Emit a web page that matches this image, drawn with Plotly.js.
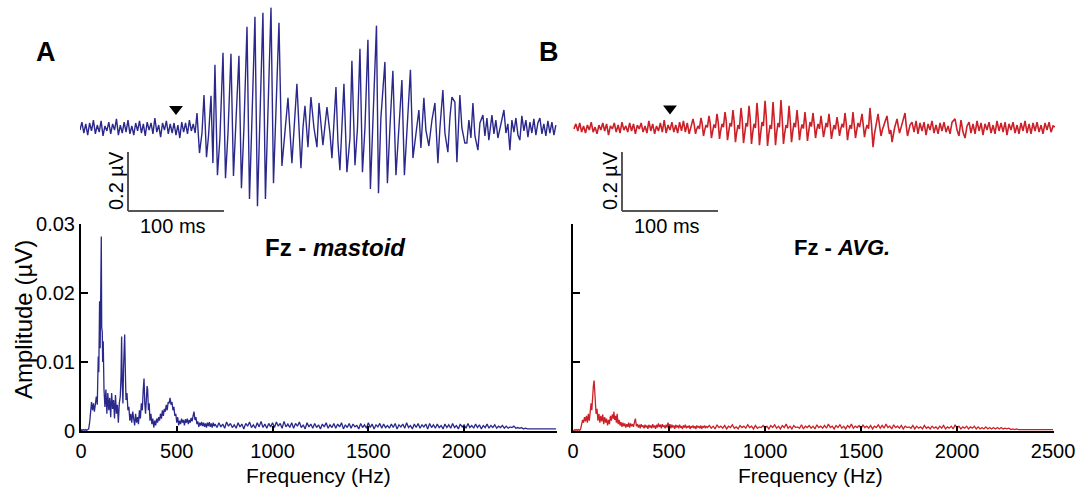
<!DOCTYPE html>
<html>
<head>
<meta charset="utf-8">
<script src="https://cdn.plot.ly/plotly-3.0.1.min.js"></script>
<style>html,body{margin:0;padding:0;background:#fff;}#chart{width:1077px;height:489px;}</style>
</head>
<body>
<div id="chart"></div>
<script>
// ---- Time-domain waveforms: [time (ms), amplitude (µV)] ----
const waveA = [
[-100,-0.007],[-98,0.020],[-96,-0.017],[-94,0.014],[-92,-0.024],[-90,0.017],[-88,-0.010],[-86,0.027],[-84,-0.020],[-82,0.010],
[-80,-0.014],[-78,0.024],[-76,-0.027],[-74,0.007],[-72,-0.010],[-70,0.020],[-68,-0.020],[-66,0.014],[-64,-0.007],[-62,0.031],
[-60,-0.024],[-58,0.010],[-56,-0.017],[-54,0.020],[-52,-0.014],[-50,0.027],[-48,-0.020],[-46,0.007],[-44,-0.024],[-42,0.017],
[-40,-0.010],[-38,0.024],[-36,-0.017],[-34,0.014],[-32,-0.027],[-30,0.020],[-28,-0.007],[-26,0.017],[-24,-0.020],[-22,0.034],
[-20,-0.014],[-18,0.010],[-16,-0.031],[-14,0.017],[-12,-0.007],[-10,0.024],[-8,-0.020],[-6,0.014],[-4,-0.017],[-2,0.017],
[0,-0.024],[2,0.010],[4,-0.034],[6,0.020],[8,-0.014],[10,0.017],[12,-0.020],[14,0.027],[16,-0.010],[18,0.014],[20,-0.017],
[21.9,0.051],[24.5,-0.085],[27.1,-0.017],[29.2,0.112],[31.8,-0.099],[33.9,-0.027],[36.5,0.109],[38.5,-0.119],[40.6,0.214],[43.2,-0.160],
[45.8,-0.034],[49.0,0.255],[51.6,-0.170],[54.2,-0.017],[57.3,0.252],[59.9,-0.163],[62.5,0.017],[65.6,0.245],[68.2,-0.204],[70.8,0],
[74.0,0.343],[76.6,-0.241],[79.2,0.034],[82.3,0.377],[84.9,-0.265],[87.5,0.027],[90.6,0.391],[93.2,-0.241],[95.8,0.051],[99.0,0.408],
[101.6,-0.187],[104.2,0.034],[107.3,0.357],[110.4,-0.129],[113.5,-0.017],[116.7,0.102],[120.8,-0.119],[123.4,0.017],[126.0,0.150],[130.2,-0.136],
[132.3,0],[134.4,0.075],[137.5,-0.065],[140.6,0.105],[143.8,0],[146.9,-0.065],[149.0,0.085],[151.0,0.017],[153.1,-0.058],[157.3,0.071],
[160.4,-0.017],[162.5,-0.102],[166.7,0.139],[168.8,-0.051],[170.8,-0.143],[175.0,0.150],[178.1,-0.150],[181.3,-0.034],[183.3,0.228],[186.5,-0.126],
[189.1,0],[191.7,0.269],[194.3,-0.150],[196.9,0],[200.0,0.299],[202.6,-0.207],[205.2,0.017],[208.9,0.347],[211.0,-0.221],[213.5,0.034],
[217.7,0.224],[220.3,-0.187],[222.9,0],[226.0,0.194],[229.2,-0.160],[232.3,0],[235.4,0.163],[238.0,-0.160],[240.6,0],[244.3,0.197],
[246.9,-0.102],[250.0,-0.017],[253.1,0.061],[255.2,-0.068],[258.3,0.102],[260.4,-0.007],[263.5,-0.061],[266.7,0.027],[269.8,0.085],[272.9,-0.119],
[275.0,0],[278.1,0.129],[280.2,-0.017],[283.3,-0.082],[285.4,0.034],[287.5,0.105],[290.6,0.088],[292.7,-0.116],[295.8,0.112],[297.9,0],
[301.0,-0.051],[303.1,-0.051],[305.2,0.027],[307.3,-0.034],[309.4,0.085],[311.5,-0.027],[314.6,-0.075],[316.7,0.017],[319.8,0.044],[321.9,-0.027],
[324.0,0.034],[326.0,-0.041],[329.2,0.044],[331.3,-0.020],[333.3,0.027],[335.4,-0.034],[338.5,0.017],[341.7,0.061],[343.8,-0.017],[345.8,0.014],
[347.9,-0.075],[350.0,0.027],[352.1,-0.014],[354.2,0.034],[356.3,-0.024],[358.3,-0.041],[360.4,0.041],[362.5,-0.010],[364.6,0.027],[366.7,-0.031],
[368.8,0.020],[370.8,-0.017],[372.9,0.031],[375.0,-0.024],[377.1,0.017],[379.2,0.034],[381.3,-0.020],[383.3,0.014],[385.4,-0.027],[387.5,0.024],
[389.6,-0.017],[391.7,0.020],[393.8,-0.024],[395.8,0.010]
];

const waveB = [
[-100,-0.003],[-98,0.014],[-96,-0.010],[-94,0.017],[-92,-0.014],[-90,0.007],[-88,-0.017],[-86,0.010],[-84,-0.007],[-82,0.020],
[-80,-0.014],[-78,0.003],[-76,-0.020],[-74,0.010],[-72,-0.007],[-70,0.017],[-68,-0.010],[-66,0.014],[-64,-0.024],[-62,0.007],
[-60,-0.003],[-58,0.017],[-56,-0.014],[-54,0.010],[-52,-0.017],[-50,0.020],[-48,-0.007],[-46,0.007],[-44,-0.014],[-42,0.017],
[-40,-0.010],[-38,0.014],[-36,-0.020],[-34,0.010],[-32,-0.003],[-30,0.017],[-28,-0.014],[-26,0.007],[-24,-0.017],[-22,0.024],
[-20,-0.010],[-18,0.014],[-16,-0.020],[-14,0.007],[-12,-0.010],[-10,0.017],[-8,-0.014],[-6,0.027],[-4,-0.017],[-2,0.010],
[0,-0.007],[2,0.020],[4,-0.014],[6,0.010],[8,-0.017],[10,0.020],[12,-0.010],[14,0.024],[16,-0.014],[18,0.017],[20,-0.020],
[21.9,0.010],[24.0,0.031],[25.2,0.012],[26.6,-0.020],[27.8,-0.004],[29.2,0.007],[30.6,-0.003],
[32.3,0.034],[33.5,0.015],[34.9,-0.027],[36.1,-0.008],[37.5,0.010],[39.0,0.002],
[40.6,0.041],[41.8,0.018],[43.2,-0.034],[44.4,-0.012],[45.8,0.012],[47.3,0.000],
[49.0,0.048],[50.2,0.020],[51.6,-0.037],[52.8,-0.010],[54.2,0.014],[55.7,0.003],
[57.3,0.054],[58.5,0.027],[59.9,-0.041],[61.1,-0.015],[62.5,0.017],[64.0,0.005],
[65.6,0.061],[66.8,0.024],[68.2,-0.048],[69.4,-0.017],[70.8,0.010],[72.3,-0.003],
[74.0,0.068],[75.2,0.030],[76.6,-0.051],[77.8,-0.020],[79.2,0.017],[80.7,0.005],
[82.3,0.075],[83.5,0.034],[84.9,-0.054],[86.1,-0.017],[87.5,0.014],[89.0,0.000],
[90.6,0.085],[91.8,0.037],[93.2,-0.058],[94.4,-0.020],[95.8,0.020],[97.3,0.007],
[99.0,0.092],[100.2,0.041],[101.6,-0.061],[102.8,-0.024],[104.2,0.010],[105.7,-0.003],
[107.3,0.088],[108.5,0.034],[109.9,-0.058],[111.1,-0.017],[112.5,0.017],[114.0,0.003],
[115.6,0.095],[116.8,0.037],[118.2,-0.054],[119.4,-0.020],[120.8,0.010],[122.3,0.000],
[124.0,0.075],[125.2,0.027],[126.6,-0.048],[127.8,-0.014],[129.2,0.017],[130.7,0.003],
[132.3,0.061],[133.5,0.020],[134.9,-0.041],[136.1,-0.010],[137.5,0.012],[139.0,-0.002],
[140.6,0.054],[141.8,0.017],[143.2,-0.044],[144.4,-0.014],[145.8,0.020],[147.3,0.005],
[149.0,0.051],[150.2,0.014],[151.6,-0.034],[152.8,-0.007],[154.2,0.014],[155.7,-0.003],
[157.3,0.041],[158.5,0.010],[159.9,-0.031],[161.1,-0.010],[162.5,0.017],[164.0,0.003],
[165.6,0.048],[166.8,0.014],[168.2,-0.037],[169.4,-0.012],[170.8,0.010],[172.3,-0.005],
[174.0,0.037],[175.2,0.010],[176.6,-0.027],[177.8,-0.005],[179.2,0.014],[180.7,0.002],
[182.3,0.051],[183.5,0.017],[184.9,-0.041],[186.1,-0.012],[187.5,0.010],[189.0,-0.003],
[190.6,0.054],[191.8,0.014],[193.2,-0.034],[194.4,-0.010],[195.8,0.017],[197.5,0.003],
[200.0,0.048],[201.2,0.012],[202.6,-0.031],[203.8,-0.007],[205.2,0.010],[206.8,-0.002],
[208.3,0.068],[209.9,0.010],[211.5,-0.065],[213.0,-0.020],[214.6,0.007],[216.7,0.048],[218.2,0.010],[219.8,-0.027],[221.3,-0.005],[222.9,0.010],
[226.0,0.041],[227.3,0.007],[228.6,-0.020],[230.0,-0.007],[231.3,-0.048],[233.9,0],[236.5,0.031],[237.8,0.005],[239.1,-0.017],[241.7,0.014],
[244.8,0.051],[246.0,0.010],[247.4,-0.027],[250.0,0.010],[252.1,0.020],[254.2,-0.014],[256.3,0.024],[258.3,-0.020],[260.4,0.017],[262.5,-0.010],
[264.6,0.020],[266.7,-0.024],[268.8,0.014],[270.8,-0.007],[272.9,0.024],[275.0,-0.017],[277.1,0.010],[279.2,-0.020],[281.3,0.017],[283.3,-0.010],
[285.4,0.020],[287.5,-0.014],[289.6,0.007],[291.7,-0.020],[293.8,0.020],[296.9,0.031],[299.0,-0.007],[301.0,-0.027],[303.1,0.027],[305.2,-0.014],
[307.3,-0.034],[309.4,0.007],[311.5,0.020],[313.5,-0.017],[315.6,0.014],[317.7,-0.020],[319.8,0.024],[321.9,-0.010],[324.0,0.017],[326.0,-0.024],
[328.1,0.014],[330.2,-0.007],[332.3,0.020],[334.4,-0.017],[336.5,0.010],[338.5,-0.020],[340.6,0.024],[342.7,-0.010],[344.8,0.017],[346.9,-0.014],
[349.0,0.020],[351.0,-0.024],[353.1,0.014],[355.2,-0.007],[357.3,0.020],[359.4,-0.017],[361.5,0.010],[363.5,-0.020],[365.6,0.017],[367.7,-0.010],
[369.8,0.024],[371.9,-0.017],[374.0,0.014],[376.0,-0.020],[378.1,0.017],[380.2,-0.010],[382.3,0.020],[384.4,-0.014],[386.5,0.010],[388.5,-0.020],
[390.6,0.017],[392.7,-0.007],[394.8,0.020],[396.9,-0.014],[399.0,0.007],[401.0,0.004]
];

const stimulusTime = [0];   // ms (arrowhead)
const scaleBarMs = 100;     // ms
const scaleBarUv = 0.2;     // µV

// ---- Amplitude spectra: low band [Hz, µV] ----
const specALow = [
[0,0],[5,0.0002],[10,0.0001],[15,0.0002],[20,0.0001],[25,0.0002],[30,0.0001],[35,0.0002],[40,0.0003],[45,0.0012],
[50,0.0025],[55,0.0042],[60,0.0030],[65,0.0040],[70,0.0028],[75,0.0045],[80,0.0050],[85,0.0038],[90,0.0108],[93,0.0085],
[97,0.0188],[100,0.0120],[103,0.0175],[106,0.0282],[108,0.0150],[111,0.0144],[113,0.0100],[116,0.0130],[120,0.0060],[125,0.0035],
[130,0.0060],[135,0.0025],[140,0.0055],[145,0.0030],[150,0.0048],[155,0.0020],[160,0.0055],[165,0.0032],[170,0.0045],[175,0.0018],
[180,0.0052],[185,0.0025],[190,0.0038],[195,0.0012],[200,0.0040],[205,0.0050],[209,0.0080],[212,0.0137],[215,0.0070],[219,0.0040],
[222,0.0090],[225,0.0125],[228,0.0140],[232,0.0080],[235,0.0045],[240,0.0055],[245,0.0030],[250,0.0035],[255,0.0015],[260,0.0025],
[265,0.0012],[270,0.0028],[275,0.0020],[280,0.0008],[285,0.0025],[290,0.0012],[295,0.0020],[300,0.0010],[305,0.0030],[310,0.0018],
[315,0.0040],[320,0.0030],[325,0.0060],[329,0.0076],[333,0.0040],[337,0.0025],[341,0.0045],[345,0.0065],[348,0.0060],[352,0.0030],
[356,0.0040],[360,0.0015],[365,0.0025],[370,0.0010],[375,0.0018],[380,0.0005],[385,0.0015],[390,0.0008],[395,0.0018],[400,0.0012],
[405,0.0020],[410,0.0015],[415,0.0025],[420,0.0018],[425,0.0030],[430,0.0022],[435,0.0032],[440,0.0028],[445,0.0038],[450,0.0030],
[455,0.0042],[460,0.0040],[465,0.0048],[470,0.0038],[475,0.0042],[480,0.0030],[485,0.0035],[490,0.0022],[495,0.0025],[500,0.0012],
[505,0.0020],[510,0.0008],[515,0.0015],[520,0.0010],[525,0.0018],[530,0.0012],[535,0.0016],[540,0.0008],[545,0.0017],[550,0.0012],
[555,0.0018],[560,0.0010],[565,0.0016],[570,0.0012],[575,0.0019],[580,0.0014],[585,0.0022],[590,0.0028],[595,0.0016],[600,0.0020],
[605,0.0010],[610,0.0014],[615,0.0006],[620,0.0012],[625,0.0008],[630,0.0013],[635,0.0007],[640,0.0012],[645,0.0006],[650,0.0011],
[655,0.0005],[660,0.0012],[665,0.0007],[670,0.0013],[675,0.0006],[680,0.0011],[685,0.0005],[690,0.0012],[695,0.0007],[700,0.0010]
];
const specBLow = [
[0,0],[5,0.0001],[10,0.0002],[15,0.0001],[20,0.0002],[25,0.0001],[30,0.0002],[35,0.0001],[40,0.0003],[45,0.0010],
[50,0.0016],[55,0.0012],[60,0.0020],[65,0.0014],[70,0.0022],[75,0.0012],[80,0.0025],[85,0.0015],[90,0.0030],[94,0.0040],
[98,0.0030],[102,0.0055],[106,0.0065],[110,0.0073],[113,0.0050],[116,0.0040],[120,0.0025],[125,0.0032],[130,0.0015],[135,0.0025],
[140,0.0012],[145,0.0022],[150,0.0014],[155,0.0024],[160,0.0010],[165,0.0020],[170,0.0012],[175,0.0018],[180,0.0008],[185,0.0016],
[190,0.0010],[195,0.0022],[200,0.0015],[205,0.0024],[210,0.0018],[213,0.0028],[217,0.0016],[222,0.0022],[226,0.0012],[230,0.0025],
[235,0.0010],[240,0.0016],[245,0.0008],[250,0.0013],[255,0.0006],[260,0.0012],[265,0.0007],[270,0.0011],[275,0.0005],[280,0.0010],
[285,0.0006],[290,0.0012],[295,0.0005],[300,0.0011],[305,0.0007],[310,0.0010],[315,0.0006],[320,0.0013],[325,0.0018],[330,0.0007],
[335,0.0010],[340,0.0005],[345,0.0009],[350,0.0004],[355,0.0010],[360,0.0006],[365,0.0008],[370,0.0004],[375,0.0009],[380,0.0005],
[385,0.0008],[390,0.0003],[395,0.0009],[400,0.0005],[405,0.0008],[410,0.0004],[415,0.0010],[420,0.0005],[425,0.0008],[430,0.0003],
[435,0.0009],[440,0.0005],[445,0.0011],[450,0.0006],[455,0.0009],[460,0.0004],[465,0.0010],[470,0.0006],[475,0.0008],[480,0.0004],
[485,0.0009],[490,0.0005],[495,0.0012],[500,0.0006],[505,0.0010],[510,0.0004],[515,0.0009],[520,0.0005],[525,0.0008],[530,0.0003],
[535,0.0009],[540,0.0005],[545,0.0008],[550,0.0004],[555,0.0009],[560,0.0005],[565,0.0007],[570,0.0003],[575,0.0008],[580,0.0005],
[585,0.0009],[590,0.0004],[595,0.0007],[600,0.0005],[605,0.0008],[610,0.0003],[615,0.0007],[620,0.0005],[625,0.0008],[630,0.0004],
[635,0.0007],[640,0.0003],[645,0.0008],[650,0.0005],[655,0.0007],[660,0.0004],[665,0.0008],[670,0.0003],[675,0.0007],[680,0.0005],
[685,0.0008],[690,0.0004],[695,0.0007],[700,0.0005]
];

// ---- Amplitude spectra: high band, 10 Hz bins starting at 710 Hz (µV) ----
const specBinStart = 710, specBinStep = 10;
const specAHigh = [
0.0005,0.0012,0.0006,0.0010,0.0004,0.0013,0.0007,0.0011,0.0005,0.0009,0.0004,0.0012,0.0006,0.0010,0.0003,0.0011,0.0007,0.0013,0.0005,0.0009,0.0004,0.0012,0.0006,0.0014,0.0005,0.0010,0.0004,0.0011,0.0006,0.0012,
0.0005,0.0013,0.0007,0.0011,0.0004,0.0014,0.0006,0.0010,0.0005,0.0012,0.0004,0.0011,0.0007,0.0013,0.0005,0.0009,0.0003,0.0012,0.0006,0.0010,0.0004,0.0011,0.0005,0.0009,0.0003,0.0010,0.0006,0.0012,0.0004,0.0009,
0.0005,0.0011,0.0004,0.0010,0.0006,0.0012,0.0003,0.0009,0.0005,0.0011,0.0004,0.0010,0.0006,0.0008,0.0003,0.0011,0.0005,0.0009,0.0004,0.0012,0.0005,0.0010,0.0003,0.0009,0.0006,0.0011,0.0004,0.0010,0.0005,0.0008,
0.0004,0.0010,0.0005,0.0011,0.0003,0.0009,0.0006,0.0010,0.0004,0.0012,0.0005,0.0008,0.0003,0.0010,0.0005,0.0011,0.0004,0.0009,0.0006,0.0010,0.0003,0.0011,0.0005,0.0009,0.0004,0.0010,0.0005,0.0008,0.0003,0.0010,
0.0005,0.0009,0.0004,0.0011,0.0005,0.0008,0.0003,0.0010,0.0006,0.0009,0.0004,0.0011,0.0005,0.0008,0.0004,0.0010,0.0005,0.0009,0.0003,0.0008,0.0005,0.0010,0.0004,0.0008,0.0005,0.0009,0.0004,0.0007,0.0005,0.0008,
0.0004,0.0007,0.0004,0.0006,0.0005,0.0007,0.0004,0.0005,0.0004,0.0005,0.0003,0.0004,0.0003,0.0003,0.0003,0.0003,0.0003,0.0003,0.0003,0.0003,0.0003,0.0003,0.0003,0.0003,0.0003,0.0003,0.0003,0.0003
];
const specBHigh = [
0.0008,0.0004,0.0007,0.0003,0.0009,0.0005,0.0007,0.0004,0.0008,0.0003,0.0007,0.0005,0.0009,0.0004,0.0006,0.0003,0.0008,0.0005,0.0007,0.0004,0.0009,0.0005,0.0007,0.0003,0.0008,0.0004,0.0006,0.0005,0.0008,0.0004,
0.0007,0.0003,0.0008,0.0005,0.0009,0.0004,0.0007,0.0003,0.0008,0.0005,0.0010,0.0004,0.0007,0.0003,0.0008,0.0005,0.0006,0.0004,0.0009,0.0003,0.0007,0.0005,0.0008,0.0004,0.0007,0.0003,0.0009,0.0005,0.0007,0.0004,
0.0008,0.0004,0.0010,0.0005,0.0007,0.0003,0.0008,0.0005,0.0009,0.0004,0.0007,0.0003,0.0008,0.0005,0.0010,0.0004,0.0007,0.0005,0.0008,0.0003,0.0009,0.0005,0.0007,0.0004,0.0008,0.0003,0.0007,0.0005,0.0009,0.0004,
0.0008,0.0004,0.0010,0.0005,0.0007,0.0003,0.0009,0.0005,0.0007,0.0004,0.0008,0.0003,0.0007,0.0005,0.0006,0.0004,0.0008,0.0003,0.0007,0.0004,0.0006,0.0003,0.0008,0.0004,0.0006,0.0003,0.0007,0.0004,0.0006,0.0003,
0.0007,0.0004,0.0008,0.0003,0.0006,0.0004,0.0007,0.0003,0.0009,0.0004,0.0007,0.0003,0.0006,0.0004,0.0007,0.0003,0.0006,0.0004,0.0007,0.0003,0.0006,0.0003,0.0005,0.0003,0.0006,0.0003,0.0005,0.0003,0.0005,0.0003,
0.0005,0.0003,0.0005,0.0003,0.0004,0.0003,0.0004,0.0002,0.0003,0.0002,0.0003,0.0002,0.0002,0.0002,0.0002,0.0002,0.0002,0.0002,0.0002,0.0002,0.0002,0.0002,0.0002,0.0002,0.0002,0.0002,0.0002,0.0002,0.0002,0.0002
];

const freqTicks = [0, 500, 1000, 1500, 2000, 2500];
const ampTicks = [0, 0.01, 0.02, 0.03];
const ampTickText = ['0', '0.01', '0.02', '0.03'];
const panelLabels = ['A', 'B'];
const panelTitles = ['<b>Fz - <i>mastoid</i></b>', '<b>Fz - <i>AVG.</i></b>'];

// ---- build ----
const blue = 'rgb(43,40,140)', red = 'rgb(204,32,40)';
const FONT = 'Liberation Sans, Arial, Helvetica, sans-serif';
function spectrum(low, high) {
  const x = low.map(p => p[0]), y = low.map(p => p[1]);
  high.forEach((v, i) => { x.push(specBinStart + i * specBinStep); y.push(v); });
  return {x, y};
}
const sA = spectrum(specALow, specAHigh), sB = spectrum(specBLow, specBHigh);

const traces = [
  {x: waveA.map(p => p[0]), y: waveA.map(p => p[1]), xaxis: 'x', yaxis: 'y', mode: 'lines', line: {color: blue, width: 1.4}, hoverinfo: 'skip'},
  {x: waveB.map(p => p[0]), y: waveB.map(p => p[1]), xaxis: 'x2', yaxis: 'y2', mode: 'lines', line: {color: red, width: 1.6}, hoverinfo: 'skip'},
  {x: stimulusTime, y: [0.064], xaxis: 'x', yaxis: 'y', mode: 'markers', marker: {symbol: 'triangle-down', size: 12, color: '#000'}, cliponaxis: false},
  {x: stimulusTime, y: [0.066], xaxis: 'x2', yaxis: 'y2', mode: 'markers', marker: {symbol: 'triangle-down', size: 12, color: '#000'}, cliponaxis: false},
  {x: sA.x, y: sA.y, xaxis: 'x3', yaxis: 'y3', mode: 'lines', line: {color: blue, width: 1.3}, cliponaxis: false},
  {x: sB.x, y: sB.y, xaxis: 'x4', yaxis: 'y4', mode: 'lines', line: {color: red, width: 1.3}, cliponaxis: false}
];

const W = 1077, H = 489;
const px = v => v / W, py = v => 1 - v / H;
const waveY = {domain: [py(215), 1], range: [-0.2949, 0.4339], visible: false, fixedrange: true};
const tickFont = {family: FONT, size: 20, color: '#000'};
const specX = (dom, rng) => ({domain: dom, range: rng, showline: true, linewidth: 2, linecolor: '#000', ticks: 'inside', ticklen: 5, tickwidth: 2, tickcolor: '#000', tickvals: freqTicks, tickfont: tickFont, showgrid: false, zeroline: false, ticklabelstandoff: 1, ticklabeloverflow: 'allow'});
const specY = (showLabels) => ({domain: [py(431), py(224)], range: [0, 0.03], showline: true, linewidth: 2, linecolor: '#000', ticks: 'inside', ticklen: 7, tickwidth: 2, tickcolor: '#000', tickvals: ampTicks, ticktext: ampTickText, showticklabels: showLabels, tickfont: tickFont, showgrid: false, zeroline: false});

const sbY0 = -0.2814;
const shapes = [];
['x', 'x2'].forEach((xr, i) => {
  const yr = i === 0 ? 'y' : 'y2';
  shapes.push({type: 'line', xref: xr, yref: yr, x0: -scaleBarMs / 2, x1: scaleBarMs / 2, y0: sbY0, y1: sbY0, line: {color: '#555', width: 2}});
  shapes.push({type: 'line', xref: xr, yref: yr, x0: -scaleBarMs / 2, x1: -scaleBarMs / 2, y0: sbY0, y1: sbY0 + scaleBarUv, line: {color: '#555', width: 2}});
});

const ann = (text, x, y, size, extra) => Object.assign({text, xref: 'paper', yref: 'paper', x: px(x), y: py(y), xanchor: 'center', yanchor: 'middle', showarrow: false, font: {family: FONT, size, color: '#000'}}, extra || {});
const annotations = [
  ann('<b>' + panelLabels[0] + '</b>', 46, 52, 27),
  ann('<b>' + panelLabels[1] + '</b>', 549, 52, 27),
  ann(scaleBarUv + ' µV', 116, 181, 20, {textangle: -90}),
  ann(scaleBarMs + ' ms', 173, 226, 20),
  ann(scaleBarUv + ' µV', 610, 181, 20, {textangle: -90}),
  ann(scaleBarMs + ' ms', 667, 226, 20),
  ann(panelTitles[0], 335, 247, 24),
  ann(panelTitles[1], 842, 247, 22),
  ann('Amplitude (µV)', 23, 320, 24, {textangle: -90}),
  ann('Frequency (Hz)', 318, 475, 21),
  ann('Frequency (Hz)', 810, 475, 21)
];

const layout = {
  width: W, height: H, margin: {l: 0, r: 0, t: 0, b: 0},
  paper_bgcolor: '#fff', plot_bgcolor: 'rgba(0,0,0,0)', showlegend: false,
  font: {family: FONT, color: '#000'},
  xaxis: {domain: [px(80), px(557)], range: [-100, 397], visible: false, fixedrange: true, anchor: 'y'},
  yaxis: Object.assign({anchor: 'x'}, waveY),
  xaxis2: {domain: [px(573), px(1055)], range: [-101, 401], visible: false, fixedrange: true, anchor: 'y2'},
  yaxis2: Object.assign({anchor: 'x2'}, waveY),
  xaxis3: Object.assign(specX([px(81), px(557)], [0, 2485]), {anchor: 'y3'}),
  yaxis3: Object.assign(specY(true), {anchor: 'x3'}),
  xaxis4: Object.assign(specX([px(573), px(1054)], [0, 2505]), {anchor: 'y4'}),
  yaxis4: Object.assign(specY(false), {anchor: 'x4'}),
  shapes, annotations
};

Plotly.newPlot('chart', traces, layout, {staticPlot: true, displayModeBar: false});
</script>
</body>
</html>
